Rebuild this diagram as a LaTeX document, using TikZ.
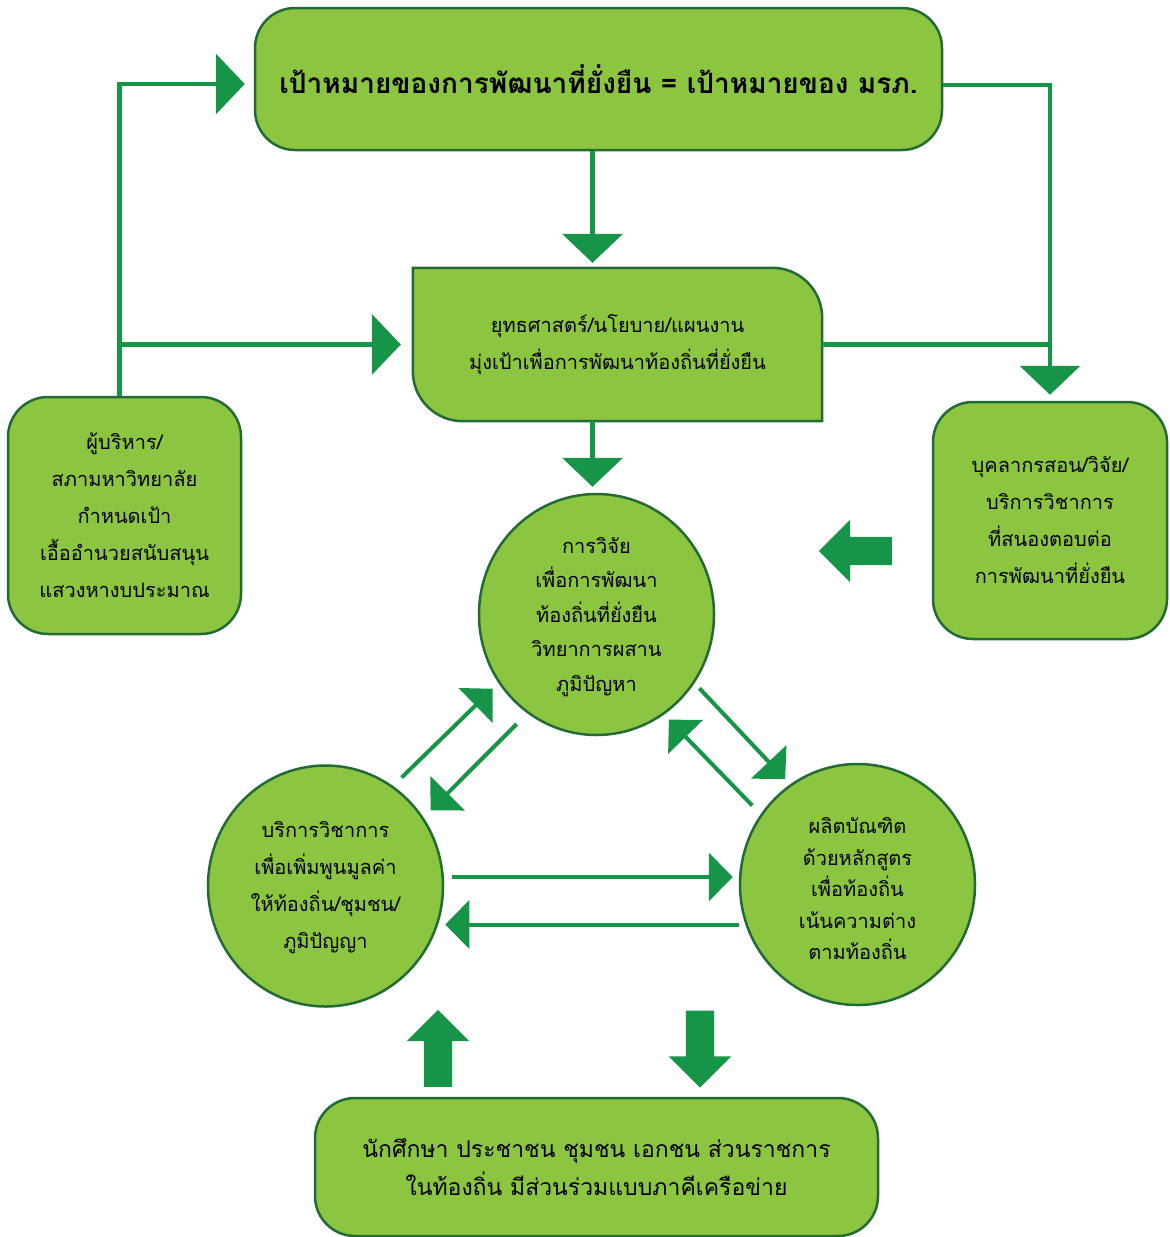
\documentclass[tikz,border=0pt]{standalone}
\usepackage{fontspec}
\newfontfamily\thai[Script=Thai]{Loma}
\usetikzlibrary{arrows.meta,shapes.geometric,shapes.arrows,backgrounds}

\definecolor{leaf}{HTML}{8CC540}
\definecolor{rim}{HTML}{236B35}
\definecolor{arrowgreen}{HTML}{169447}

\tikzset{
  panel/.style={draw=rim, line width=2.5pt, fill=leaf},
  note/.style={align=center, inner sep=0pt, font=\thai\fontsize{20}{37}\selectfont},
  box/.style={panel, note, rounded corners=40pt},
  bubble/.style={panel, ellipse, inner sep=0pt, minimum width=235pt, minimum height=241pt},
  bar/.style={draw=arrowgreen, line width=4.5pt},
  flow/.style={bar, -{Triangle[length=29pt,width=60pt]}},
  link/.style={bar, line width=4pt, -{Triangle[length=24pt,width=48pt]}},
  fat/.style={single arrow, fill=arrowgreen, inner sep=14pt, single arrow head extend=17pt,
    single arrow tip angle=90, minimum height=77pt}
}

\begin{document}
\begin{tikzpicture}[x=1pt,y=1pt]
  \useasboundingbox (0,0) rectangle (1170,-1237);

  % boxes
  \node[box, minimum width=687pt, minimum height=142pt,
    font=\thai\bfseries\fontsize{28}{34}\selectfont] (goal) at (598.5,-79)
    {เป้าหมายของการพัฒนาที่ยั่งยืน = เป้าหมายของ มรภ.};
  \node[note, minimum width=409pt, minimum height=153pt] (strat) at (617.5,-344.5)
    {ยุทธศาสตร์/นโยบาย/แผนงาน\\มุ่งเป้าเพื่อการพัฒนาท้องถิ่นที่ยั่งยืน};
  \begin{scope}[on background layer]
    \draw[panel] (strat.north west) -- ([xshift=-50pt]strat.north east)
      arc[start angle=90, end angle=0, radius=50pt] -- (strat.south east)
      -- ([xshift=50pt]strat.south west)
      arc[start angle=270, end angle=180, radius=50pt] -- cycle;
  \end{scope}
  \node[box, minimum width=233pt, minimum height=237pt] (admin) at (124.5,-515.5)
    {ผู้บริหาร/\\สภามหาวิทยาลัย\\กำหนดเป้า\\เอื้ออำนวยสนับสนุน\\แสวงหางบประมาณ};
  \node[box, minimum width=234pt, minimum height=237pt] (staff) at (1050,-520.5)
    {บุคลากรสอน/วิจัย/\\บริการวิชาการ\\ที่สนองตอบต่อ\\การพัฒนาที่ยั่งยืน};
  \node[box, minimum width=563pt, minimum height=138pt,
    font=\thai\fontsize{23}{38}\selectfont] (network) at (596.5,-1167)
    {นักศึกษา ประชาชน ชุมชน เอกชน ส่วนราชการ\\ในท้องถิ่น มีส่วนร่วมแบบภาคีเครือข่าย};

  % circles
  \node[bubble] (research) at (596.5,-614.5) {};
  \node[note, font=\thai\fontsize{20}{34.5}\selectfont] (research-text) at (596.5,-617)
    {การวิจัย\\เพื่อการพัฒนา\\ท้องถิ่นที่ยั่งยืน\\วิทยาการผสาน\\ภูมิปัญหา};
  \node[bubble] (service) at (325.5,-886) {};
  \node[note] (service-text) at (325.5,-888)
    {บริการวิชาการ\\เพื่อเพิ่มพูนมูลค่า\\ให้ท้องถิ่น/ชุมชน/\\ภูมิปัญญา};
  \node[bubble] (produce) at (857.5,-884.5) {};
  \node[note, font=\thai\fontsize{20}{31.5}\selectfont] (produce-text) at (857.5,-889)
    {ผลิตบัณฑิต\\ด้วยหลักสูตร\\เพื่อท้องถิ่น\\เน้นความต่าง\\ตามท้องถิ่น};

  % block arrows
  \node[fat, shape border rotate=180, minimum height=73pt] (push) at (862.5,-551) {};
  \node[fat, shape border rotate=90] (lift) at (438,-1055.5) {};
  \node[fat, shape border rotate=270] (drop) at (700,-1042) {};

  % connectors
  \coordinate (trunk) at ([xshift=-5pt]admin.north);
  \draw[flow, shorten >=9pt] (trunk) |- ([yshift=-5pt]goal.west);
  \draw[flow, shorten >=12pt] (trunk |- strat.west) -- (strat.west);
  \draw[flow, shorten >=5pt] ([xshift=-6pt]goal.south) -- ([xshift=-6pt]goal.south |- strat.north);
  \draw[flow, shorten >=6pt] ([xshift=-6pt]goal.south |- strat.south) -- ([xshift=-6pt]goal.south |- research.north);
  \draw[flow, shorten >=6pt] ([yshift=-6pt]goal.east) -| (staff.north);
  \draw[bar] (strat.east) -- (strat.east -| staff.north);

  \draw[link, shorten <=12pt, shorten >=8pt] (service.56) -- (research.215);
  \draw[link, shorten <=15pt, shorten >=10pt] (research.235) -- (service.35);
  \draw[link, shorten <=7pt, shorten >=7pt] (research.325) -- (produce.124);
  \draw[link, shorten <=12pt, shorten >=7pt] (produce.144) -- (research.304);
  \draw[link, shorten <=8pt, shorten >=6pt] ([yshift=9pt]service.east)
    -- ([yshift=9pt]service.east -| produce.west);
  \draw[link, shorten >=1pt] ([yshift=-40pt]produce.west)
    -- ([yshift=-40pt]produce.west -| service.east);
\end{tikzpicture}
\end{document}
